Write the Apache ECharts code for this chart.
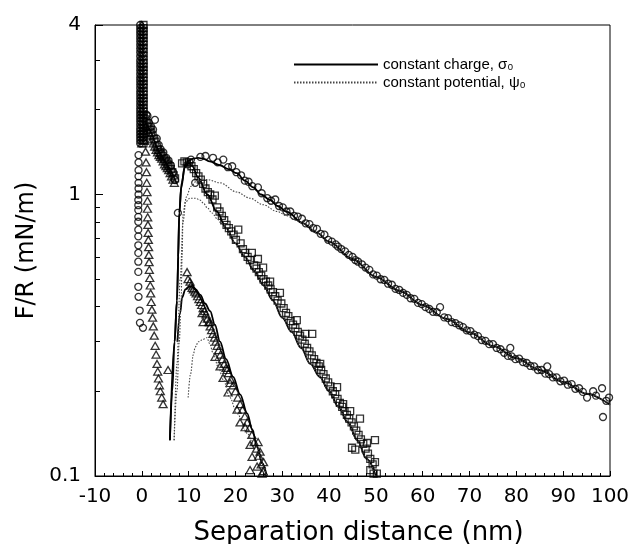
<!DOCTYPE html>
<html><head><meta charset="utf-8">
<script src="https://cdn.jsdelivr.net/npm/echarts@6/dist/echarts.min.js"></script>
<style>html,body{margin:0;padding:0;background:#fff}#c{width:633px;height:544px}</style>
</head><body><div id="c"></div>
<script>
// ---- axis ticks / labels ----
const yLabelValues = [0.1, 1, 4];
const yLabelText = ['0.1', '1', '4'];
const yMajorTicks = [0.1, 1, 4];
const yMinorTicks = [0.2, 0.3, 0.4, 0.5, 0.6, 0.7, 0.8, 0.9, 2, 3];
const xMin = -10, xMax = 100, xStep = 10;

const nameCharge = 'constant charge, σ₀';
const namePotential = 'constant potential, ψ₀';

// ---- circles ----
const columnValues = [4.0,3.9,3.8,3.7,3.6,3.5,3.4,3.3,3.2,3.1,3.0,2.92,2.84,2.76,2.68,2.6,2.53,2.46,2.39,2.32,2.26,2.2,2.14,2.08,2.02,1.97,1.92,1.87,1.82,1.77,1.72,1.68,1.64,1.6,1.56,1.52];
const circleColumn = columnValues.map(v => [-0.35, v]);
const circleJump = [[-0.7,1.38],[-0.7,1.3],[-0.7,1.22],[-0.7,1.16],[-0.7,1.1],[-0.7,1.05],[-0.7,1.0],[-0.75,0.956],[-0.75,0.916],[-0.75,0.88],[-0.75,0.833],[-0.75,0.80],[-0.75,0.75],[-0.75,0.71],[-0.75,0.66],[-0.75,0.62],[-0.75,0.577],[-0.75,0.531],[-0.75,0.47],[-0.7,0.433],[-0.45,0.387],[-0.4,0.35],[0.25,0.336]];
const circleApproach = [[1.2,1.9],[2.8,1.84],[3.6,1.5],[5.2,1.35],[6.7,1.2],[7.1,1.126],[7.7,0.86],[1.0,1.92],[1.5,1.8],[2.0,1.74],[2.4,1.7],[3.2,1.58],[4.0,1.45],[4.6,1.41],[5.7,1.32],[6.2,1.27]];
const circleMain = [[9.8,1.28],[10.5,1.33],[11.4,1.10],[12.5,1.36],[13.6,1.37],[15.2,1.35],[16.2,1.30],[17.4,1.33],[18.4,1.25],[19.3,1.26],[20.2,1.2],[21.2,1.17],[22.0,1.12],[22.8,1.11],[23.6,1.07],[24.8,1.06],[25.6,1.01],[26.8,0.97],[27.6,0.95],[28.5,0.96],[29.3,0.91],[30.1,0.9],[30.9,0.87],[31.7,0.87],[32.5,0.84],[33.3,0.835],[34.2,0.82],[35.0,0.79],[35.8,0.785],[36.6,0.76],[37.4,0.755],[38.2,0.725],[39.0,0.72],[39.8,0.69],[40.6,0.68],[41.4,0.665],[41.9,0.653],[42.6,0.64],[43.4,0.628],[44.2,0.61],[45.0,0.6],[45.6,0.585],[46.2,0.577],[47.0,0.565],[47.8,0.55],[48.6,0.54],[49.4,0.52],[50.2,0.515],[51.0,0.5],[51.8,0.497],[52.6,0.482],[53.4,0.478],[54.2,0.462],[55.0,0.458],[55.8,0.447],[56.6,0.44],[57.4,0.428],[58.2,0.426],[59.0,0.412],[59.8,0.408],[60.6,0.398],[61.4,0.392],[62.2,0.383],[63.0,0.382],[63.7,0.398],[64.6,0.366],[65.4,0.364],[66.2,0.352],[67.0,0.349],[67.8,0.343],[68.6,0.338],[69.4,0.329],[70.2,0.327],[71.0,0.318],[71.8,0.314],[72.6,0.304],[73.4,0.302],[74.2,0.294],[75.0,0.294],[75.8,0.285],[76.6,0.282],[77.4,0.274],[78.7,0.285],[78.2,0.267],[79.0,0.266],[79.8,0.26],[80.6,0.261],[81.4,0.254],[82.2,0.252],[83.0,0.246],[83.8,0.245],[84.6,0.238],[85.4,0.238],[86.6,0.245],[86.2,0.231],[87.0,0.23],[87.8,0.224],[88.6,0.224],[89.4,0.217],[90.2,0.218],[91.0,0.211],[91.8,0.212],[92.6,0.204],[93.4,0.205],[94.2,0.199],[95.1,0.19],[96.4,0.2],[97.0,0.193],[98.3,0.205],[98.5,0.162],[99.2,0.185],[99.8,0.19]];

// ---- squares ----
const squareColumn = columnValues.map(v => [0.35, v]);
const squareApproach = [[0.8,1.85],[1.1,1.79],[1.4,1.74],[1.7,1.7],[2.0,1.66],[2.3,1.62],[2.6,1.58],[2.9,1.54],[3.2,1.48],[3.5,1.44],[3.8,1.41],[4.1,1.39],[4.4,1.37],[4.7,1.34],[5.0,1.32],[5.3,1.3],[5.6,1.28],[5.9,1.26],[6.2,1.23],[6.5,1.2],[6.8,1.17],[7.1,1.14]];
const squareMain = [[8.6,1.29],[9.1,1.31],[9.6,1.3],[10.1,1.3],[10.6,1.26],[11.1,1.23],[11.6,1.19],[12.1,1.16],[12.6,1.13],[13.1,1.09],[13.6,1.05],[14.1,1.02],[14.6,1.0],[15.1,0.96],[15.6,0.99],[16.1,0.9],[16.6,0.87],[17.1,0.84],[17.6,0.81],[18.1,0.78],[18.6,0.76],[19.1,0.74],[19.6,0.72],[20.1,0.69],[20.6,0.75],[21.1,0.67],[21.6,0.64],[22.1,0.62],[22.6,0.6],[23.1,0.585],[23.5,0.62],[24.0,0.56],[24.5,0.545],[24.8,0.59],[25.0,0.53],[25.5,0.515],[25.9,0.55],[26.0,0.5],[26.5,0.49],[27.0,0.475],[27.4,0.49],[27.5,0.46],[28.0,0.45],[28.5,0.435],[29.0,0.42],[29.5,0.447],[29.8,0.41],[30.3,0.395],[30.8,0.38],[31.3,0.37],[31.8,0.355],[32.3,0.345],[33.1,0.358],[32.8,0.335],[33.3,0.325],[33.8,0.315],[34.3,0.305],[34.9,0.32],[34.8,0.295],[35.3,0.285],[35.8,0.277],[36.4,0.32],[36.3,0.268],[36.8,0.26],[37.3,0.252],[37.8,0.245],[38.1,0.25],[38.3,0.238],[38.8,0.23],[39.3,0.222],[39.8,0.215],[40.3,0.208],[40.8,0.2],[41.3,0.195],[41.7,0.207],[41.8,0.188],[42.3,0.182],[42.8,0.176],[43.0,0.18],[43.3,0.17],[43.8,0.165],[44.3,0.16],[44.5,0.17],[44.8,0.155],[44.9,0.126],[45.3,0.15],[45.6,0.124],[45.8,0.145],[46.3,0.14],[46.6,0.16],[46.8,0.135],[47.3,0.13],[47.8,0.125],[48.1,0.131],[48.3,0.12],[48.8,0.115],[48.8,0.105],[49.3,0.11],[49.8,0.134],[49.8,0.112],[50.2,0.102],[49.5,0.102]];

// ---- triangles ----
const triangleColumn = columnValues.map(v => [0.0, v]);
const triangleApproach = [[0.9,1.75],[1.25,1.7],[1.55,1.66],[1.85,1.62],[2.15,1.57],[2.45,1.52],[2.75,1.48],[3.05,1.44],[3.35,1.41],[3.65,1.38],[3.95,1.36],[4.25,1.34],[4.55,1.31],[4.85,1.28],[5.15,1.26],[5.45,1.24],[5.75,1.22],[6.05,1.19],[6.35,1.16],[6.65,1.13],[6.95,1.1]];
const triangleJump = [[0.6,1.55],[0.8,1.42],[0.9,1.3],[1.0,1.2],[1.05,1.1],[1.1,1.02],[1.2,0.95],[1.2,0.89],[1.25,0.83],[1.3,0.78],[1.35,0.73],[1.4,0.69],[1.45,0.65],[1.5,0.61],[1.55,0.575],[1.6,0.54],[1.7,0.505],[1.8,0.475],[1.9,0.445],[2.0,0.415],[2.15,0.39],[2.3,0.365],[2.45,0.34],[2.65,0.315],[2.85,0.29],[3.05,0.27],[3.25,0.25],[3.4,0.235],[3.55,0.222],[3.75,0.21],[3.95,0.2],[4.25,0.19],[4.55,0.18],[5.6,0.238]];
const triangleMain = [[9.66,0.53],[9.87,0.50],[10.3,0.49],[10.5,0.475],[10.73,0.466],[11.0,0.46],[11.3,0.452],[11.6,0.445],[11.9,0.435],[12.2,0.425],[12.5,0.415],[12.8,0.405],[13.1,0.395],[13.4,0.385],[13.7,0.375],[14.0,0.362],[14.3,0.352],[14.6,0.34],[14.9,0.33],[15.2,0.32],[15.5,0.31],[15.8,0.3],[16.1,0.29],[16.4,0.28],[16.8,0.27],[17.2,0.26],[17.6,0.25],[18.0,0.242],[18.5,0.232],[19.0,0.22],[19.5,0.21],[20.0,0.2],[20.5,0.19],[21.0,0.18],[21.5,0.172],[22.0,0.163],[22.5,0.155],[23.0,0.148],[23.5,0.14],[24.0,0.132],[24.5,0.125],[25.0,0.118],[25.5,0.11],[25.9,0.104],[12.86,0.379],[13.08,0.352],[14.57,0.352],[15.64,0.265],[16.71,0.245],[17.35,0.223],[18.21,0.238],[18.85,0.214],[18.42,0.198],[20.34,0.172],[20.98,0.155],[22.05,0.149],[23.12,0.129],[24.83,0.132],[23.55,0.117],[25.26,0.122],[23.12,0.105],[24.62,0.108],[25.68,0.102],[26.0,0.112]];

// ---- theory curves ----
const chargeCircle = [[6.0,0.134],[6.5,0.2],[7.0,0.3],[7.5,0.42],[7.8,0.6],[8.0,0.86],[8.4,1.05],[9.2,1.27],[10,1.32],[11,1.34],[12,1.35],[13.1,1.34],[14.5,1.31],[16.7,1.27],[18.5,1.23],[20.3,1.19],[22,1.12],[23.8,1.06],[25.5,1.0],[27.4,0.956],[29,0.91],[31,0.867],[34.4,0.79],[37.4,0.73],[40,0.68],[45,0.59],[50,0.51],[55,0.455],[60,0.405],[65,0.362],[70,0.324],[75,0.29],[80,0.262],[85,0.238],[90,0.216],[95,0.196],[100,0.179]];
const potentialCircle = [[6.9,0.134],[7.5,0.25],[8.2,0.5],[8.8,0.8],[9.5,0.98],[10.5,1.07],[11.8,1.12],[13.9,1.13],[16.7,1.10],[20.3,1.02],[23.1,0.97],[25.9,0.92],[28.9,0.87],[31,0.84],[33,0.808],[34.4,0.79],[37.4,0.73],[40,0.68],[45,0.59],[50,0.51],[55,0.455],[60,0.405],[65,0.362],[70,0.324],[75,0.29],[80,0.262],[85,0.238],[90,0.216],[95,0.196],[100,0.179]];
const chargeSquare = [[6.0,0.134],[7.0,0.3],[7.5,0.42],[8.0,0.86],[8.5,1.1],[9.2,1.25],[10,1.29],[10.8,1.26],[12,1.15],[14,1.0],[16,0.87],[18,0.76],[20,0.67],[22,0.6],[24,0.535],[26,0.475],[28,0.42],[30,0.365],[32,0.325],[34,0.285],[36,0.25],[38,0.225],[40,0.2],[42,0.176],[44,0.155],[46,0.134],[48,0.115],[50,0.1]];
const potentialSquare = [[6.9,0.134],[7.5,0.2],[8.0,0.3],[8.4,0.42],[8.6,0.6],[8.8,0.85],[9.3,0.94],[10.3,0.97],[11.5,0.97],[12.4,0.956],[13.2,0.93],[13.9,0.9],[15,0.86],[16.1,0.82],[17,0.79],[18,0.76],[20,0.67],[22,0.6],[24,0.535],[26,0.475],[28,0.42],[30,0.365],[32,0.325],[34,0.285],[36,0.25],[38,0.225],[40,0.2],[42,0.176],[44,0.155],[46,0.134],[48,0.115],[50,0.1]];
const chargeTriangle = [[7.6,0.30],[8.2,0.38],[8.6,0.43],[9.3,0.46],[10.0,0.47],[10.7,0.47],[11.5,0.46],[12.5,0.44],[13.5,0.41],[14.6,0.385],[15.6,0.345],[16.7,0.30],[18,0.26],[19.5,0.225],[21,0.195],[22.5,0.167],[23.6,0.146],[24.6,0.127],[25.7,0.111],[26.7,0.1]];
const potentialTriangle = [[9.9,0.19],[10.4,0.23],[11.0,0.27],[11.4,0.287],[12.1,0.30],[12.8,0.304],[13.9,0.31],[14.5,0.295],[15.2,0.274],[16.3,0.245],[17.4,0.22],[18.8,0.19],[20.3,0.167],[22.5,0.142],[23.8,0.13],[24.6,0.127],[25.7,0.111],[26.7,0.1]];

const chart = echarts.init(document.getElementById('c'), null, {renderer: 'canvas'});
const black = '#000';
const font = 'DejaVu Sans';
const markStyle = {color: 'rgba(255,255,255,0)', borderColor: black, borderWidth: 1.3};

function scatter(name, data, symbol, size) {
  return {type: 'scatter', name: name, data: data, symbol: symbol, symbolSize: size,
    itemStyle: markStyle, silent: true, z: 3};
}
function curve(name, data, dotted) {
  return {type: 'line', name: name, data: data, symbol: 'none', showSymbol: false,
    smooth: 0.35, smoothMonotone: 'x', silent: true, z: 4,
    itemStyle: {color: dotted ? '#444' : black},
    lineStyle: dotted ? {color: '#444', width: 1.1, type: [1.5, 1.5]} : {color: black, width: 1.8}};
}
function findLabel(v) {
  for (let i = 0; i < yLabelValues.length; i++) {
    if (Math.abs(v - yLabelValues[i]) < 1e-6 * Math.max(1, yLabelValues[i])) return yLabelText[i];
  }
  return '';
}

chart.setOption({
  animation: false,
  backgroundColor: '#fff',
  grid: {left: 95, top: 25, right: 23, bottom: 68, show: true, borderColor: black, borderWidth: 1,
    containLabel: false, outerBoundsMode: 'none'},
  legend: {
    left: 288, top: 52, orient: 'vertical', itemWidth: 84, itemHeight: 12, itemGap: 3,
    selectedMode: false, data: [nameCharge, namePotential],
    itemStyle: {opacity: 0},
    textStyle: {fontFamily: 'Liberation Sans', fontSize: 15, color: black}
  },
  xAxis: {
    type: 'value', min: xMin, max: xMax, interval: xStep,
    axisLine: {onZero: false, lineStyle: {color: black, width: 1}},
    axisTick: {inside: true, length: 5, lineStyle: {color: black}},
    minorTick: {show: true, splitNumber: 5, length: 3, lineStyle: {color: black}},
    splitLine: {show: false},
    axisLabel: {color: black, fontFamily: font, fontSize: 20, margin: 11},
    name: 'Separation distance (nm)', nameLocation: 'middle', nameGap: 44,
    nameTextStyle: {color: black, fontFamily: font, fontSize: 26, padding: [0, 0, 0, 12]}
  },
  yAxis: [{
    type: 'log', logBase: 10, min: 0.1, max: 4,
    axisLine: {show: true, onZero: false, lineStyle: {color: black, width: 1}},
    axisTick: {show: true, inside: true, length: 8, customValues: yMajorTicks, lineStyle: {color: black}},
    axisLabel: {color: black, fontFamily: font, fontSize: 20, margin: 14, customValues: yLabelValues, formatter: findLabel},
    splitLine: {show: false},
    name: 'F/R (mN/m)', nameLocation: 'middle', nameGap: 39,
    nameTextStyle: {color: black, fontFamily: font, fontSize: 24}
  }, {
    type: 'log', logBase: 10, min: 0.1, max: 4, position: 'left',
    axisLine: {show: false, onZero: false},
    axisTick: {show: true, inside: true, length: 5, customValues: yMinorTicks, lineStyle: {color: black}},
    axisLabel: {show: false},
    splitLine: {show: false}
  }],
  series: [
    scatter('circles', circleColumn.concat(circleJump, circleApproach, circleMain), 'circle', 7),
    scatter('squares', squareColumn.concat(squareApproach, squareMain), 'rect', 7),
    scatter('triangles', triangleColumn.concat(triangleApproach, triangleJump, triangleMain), 'triangle', [8, 7]),
    curve(nameCharge, chargeCircle, false),
    curve(nameCharge, chargeSquare, false),
    curve(nameCharge, chargeTriangle, false),
    curve(namePotential, potentialCircle, true),
    curve(namePotential, potentialSquare, true),
    curve(namePotential, potentialTriangle, true)
  ]
});
</script></body></html>
